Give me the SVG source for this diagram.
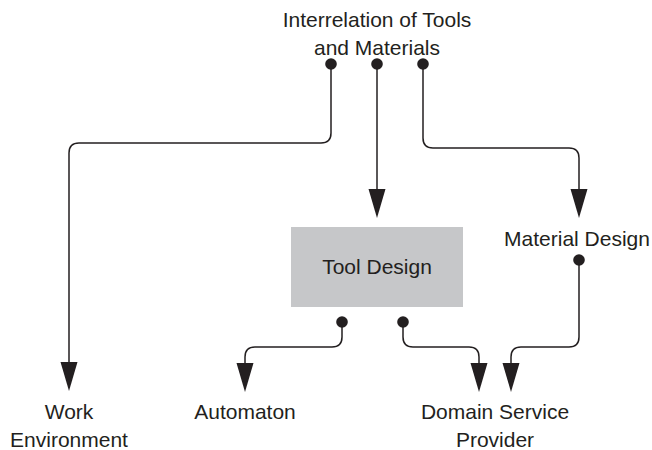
<svg xmlns="http://www.w3.org/2000/svg" width="652" height="450" viewBox="0 0 652 450">
  <defs>
    <style>
      .lbl { font-family: "Liberation Sans", Arial, sans-serif; font-size: 21px; fill: #231f20; text-anchor: middle; }
      .wire { fill: none; stroke: #231f20; stroke-width: 1.5; marker-start: url(#dot); marker-end: url(#head); }
      .box { fill: #c6c7c9; }
    </style>
    <marker id="head" markerUnits="userSpaceOnUse" markerWidth="30" markerHeight="18" refX="0" refY="8.5" orient="auto" overflow="visible">
      <path d="M0,0 L29,8.5 L0,17 Z" fill="#231f20"/>
    </marker>
    <marker id="dot" markerUnits="userSpaceOnUse" markerWidth="12" markerHeight="12" refX="6" refY="6" orient="auto" overflow="visible">
      <circle cx="6" cy="6" r="5.8" fill="#231f20"/>
    </marker>
  </defs>

  <rect width="652" height="450" fill="#ffffff"/>

  <g id="connectors">
    <path class="wire" d="M331,64 V133 Q331,143 321,143 H79 Q69,143 69,153 V362"/>
    <path class="wire" d="M377,64 V189"/>
    <path class="wire" d="M423,64 V138 Q423,148 433,148 H569 Q579,148 579,158 V189"/>
    <path class="wire" d="M342,322 V337 Q342,347 332,347 H255 Q245,347 245,357 V363"/>
    <path class="wire" d="M403,322 V337 Q403,347 413,347 H469 Q479,347 479,357 V363"/>
    <path class="wire" d="M579,260 V337 Q579,347 569,347 H521 Q511,347 511,357 V363"/>
  </g>

  <g id="interrelation">
    <text class="lbl" x="377" y="27">Interrelation of Tools</text>
    <text class="lbl" x="377" y="55">and Materials</text>
  </g>

  <g id="tool-design">
    <rect class="box" x="291" y="227" width="172" height="80"/>
    <text class="lbl" x="377" y="274">Tool Design</text>
  </g>

  <g id="material-design">
    <text class="lbl" x="577" y="246">Material Design</text>
  </g>

  <g id="work-environment">
    <text class="lbl" x="69" y="419">Work</text>
    <text class="lbl" x="69" y="447">Environment</text>
  </g>

  <g id="automaton">
    <text class="lbl" x="245" y="419">Automaton</text>
  </g>

  <g id="domain-service-provider">
    <text class="lbl" x="495" y="419">Domain Service</text>
    <text class="lbl" x="495" y="447">Provider</text>
  </g>
</svg>
